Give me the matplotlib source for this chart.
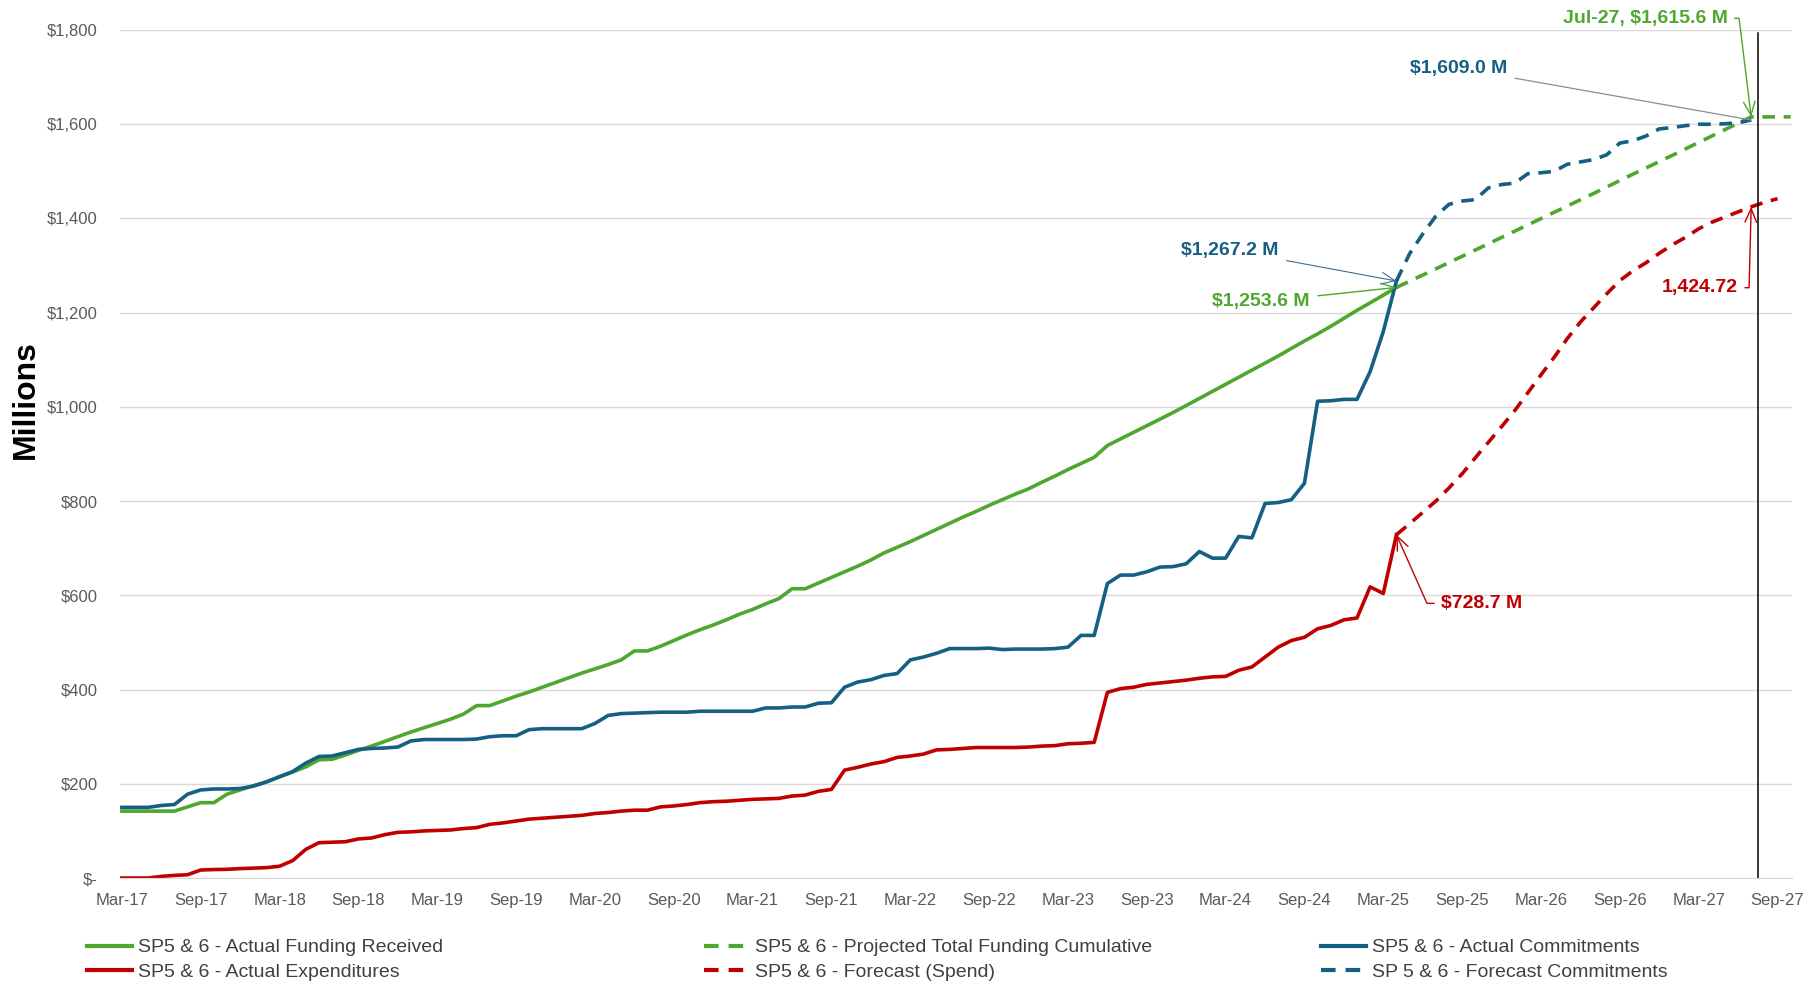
import numpy as np
import matplotlib
matplotlib.use("Agg")
import matplotlib.pyplot as plt
from matplotlib.ticker import FuncFormatter
from matplotlib.lines import Line2D

plt.rcParams['font.family'] = ['Liberation Sans', 'DejaVu Sans']

# colours
GREEN = '#4EA72E'
BLUE = '#156082'
RED = '#C00000'

# x tick labels, one every 6 months starting Mar-17 (month index 0)
tick_labels = ['Mar-17', 'Sep-17', 'Mar-18', 'Sep-18', 'Mar-19', 'Sep-19', 'Mar-20',
               'Sep-20', 'Mar-21', 'Sep-21', 'Mar-22', 'Sep-22', 'Mar-23', 'Sep-23',
               'Mar-24', 'Sep-24', 'Mar-25', 'Sep-25', 'Mar-26', 'Sep-26', 'Mar-27',
               'Sep-27']

# actual series, monthly from Mar-17 to Apr-25 ($M)
funding_actual = [142, 142, 142, 142, 142, 151, 160, 160, 178, 187,
                  196, 204, 215, 225, 236, 251, 252, 261, 271, 280,
                  290, 300, 310, 319, 328, 337, 348, 366, 366, 376,
                  386, 395, 405, 415, 425, 435, 444, 453, 463, 482,
                  482, 492, 504, 516, 527, 537, 548, 560, 570, 582,
                  593, 614, 614, 626, 638, 650, 662, 675, 690, 702,
                  714, 727, 740, 753, 766, 778, 791, 803, 815, 826,
                  840, 853, 867, 880, 893, 918, 932, 946, 960, 974,
                  988, 1003, 1018, 1033, 1048, 1063, 1078, 1093, 1108, 1124,
                  1140, 1155, 1171, 1188, 1205, 1221, 1237, 1253.6]

commit_actual = [150, 150, 150, 154, 156, 178, 187, 189, 189, 190,
                 195, 204, 215, 226, 244, 258, 259, 266, 273, 275,
                 276, 278, 291, 294, 294, 294, 294, 295, 300, 302,
                 302, 315, 317, 317, 317, 317, 328, 345, 349, 350,
                 351, 352, 352, 352, 354, 354, 354, 354, 354, 361,
                 361, 363, 363, 371, 372, 405, 416, 421, 430, 434,
                 463, 469, 477, 487, 487, 487, 488, 485, 486, 486,
                 486, 487, 490, 515, 515, 625, 643, 643, 650, 660,
                 661, 667, 693, 679, 679, 725, 722, 795, 797, 803,
                 838, 1012, 1013, 1016, 1016, 1075, 1160, 1267.2]

spend_actual = [0, 0, 0, 3.5, 5.6, 7, 17, 18, 18.5, 20,
                21, 22, 25, 37, 61, 75, 76, 77, 83, 85,
                92, 97, 98, 100, 101, 102, 105, 107, 114, 117,
                121, 125, 127, 129, 131, 133, 137, 139, 142, 144,
                144, 151, 153, 156, 160, 162, 163, 165, 167, 168,
                169, 174, 176, 184, 188, 229, 235, 242, 247, 256,
                259, 263, 272, 273, 275, 277, 277, 277, 277, 278,
                280, 281, 285, 286, 288, 394, 402, 405, 411, 414,
                417, 420, 424, 427, 428, 441, 448, 469, 490, 504,
                511, 529, 536, 548, 552, 618, 604, 728.7]

# projected total funding (quarterly points from Apr-25)
funding_proj_month = [97, 100, 103, 106, 109, 112, 115, 118, 121, 124, 127]
funding_proj = [1253.6, 1293, 1333, 1373, 1413, 1453, 1494, 1534, 1575, 1615.6, 1615.6]

# forecast commitments, monthly Apr-25 to Jul-27
commit_fc = [1267.2, 1325, 1367, 1405, 1430, 1437, 1440, 1465, 1472, 1475,
             1495, 1497, 1500, 1515, 1520, 1525, 1535, 1560, 1565, 1575,
             1590, 1593, 1597, 1600, 1600, 1601, 1603, 1609.0]

# forecast spend, monthly Apr-25 to Sep-27
spend_fc = [728.7, 752, 776, 800, 828, 858, 892, 925, 958, 992,
            1030, 1068, 1105, 1145, 1180, 1210, 1240, 1268, 1289, 1306,
            1326, 1344, 1360, 1378, 1392, 1403, 1414, 1424.72, 1434, 1442]

FC_START = len(funding_actual) - 1   # Apr-25
JUL27 = 124

x_act = np.arange(len(funding_actual))
x_cfc = np.arange(FC_START, FC_START + len(commit_fc))
x_sfc = np.arange(FC_START, FC_START + len(spend_fc))

fig = plt.figure(figsize=(18.17, 9.84), dpi=100)
ax = fig.add_axes([0.066, 0.1077, 0.9202, 0.8618])

lw = 2.6
dash = (0, (3.5, 2.4))
ax.plot(x_act, funding_actual, color=GREEN, lw=lw)
ax.plot(funding_proj_month, funding_proj, color=GREEN, lw=lw, linestyle=dash)
ax.plot(x_act, commit_actual, color=BLUE, lw=lw)
ax.plot(x_act, spend_actual, color=RED, lw=lw)
ax.plot(x_sfc, spend_fc, color=RED, lw=lw, linestyle=dash)
ax.plot(x_cfc, commit_fc, color=BLUE, lw=lw, linestyle=dash)

# marker line at Jul-27 (drawn just right of the month point, as in the original)
ax.axvline(JUL27 + 0.5, color='black', lw=1.1, ymax=0.997)

ax.set_xlim(-0.15, 127.1)
ax.set_ylim(0, 1800)
ax.set_yticks(np.arange(0, 1801, 200))
ax.yaxis.set_major_formatter(FuncFormatter(lambda v, p: '$-' if v == 0 else f'${v:,.0f}'))
ax.set_xticks(np.arange(0, 6 * len(tick_labels), 6))
ax.set_xticklabels(tick_labels)
ax.tick_params(axis='both', length=0, labelsize=12, labelcolor='#595959')
ax.tick_params(axis='y', pad=16)
ax.tick_params(axis='x', pad=11)
ax.grid(axis='y', color='#D9D9D9', lw=1)
ax.set_axisbelow(True)
for s in ['top', 'right', 'left']:
    ax.spines[s].set_visible(False)
ax.spines['bottom'].set_color('#D9D9D9')

ax.set_ylabel('Millions', fontsize=23, fontweight='bold')
ax.yaxis.set_label_coords(-0.0475, 0.564)

# annotations
afont = dict(fontsize=14, fontweight='bold')
ax.annotate('$1,267.2 M', xy=(FC_START, commit_fc[0]), xytext=(88.0, 1333),
            ha='right', va='center', color=BLUE, **afont,
            arrowprops=dict(arrowstyle='->,head_length=0.7,head_width=0.3',
                            color='#3F6F8F', lw=0.8, shrinkA=4, shrinkB=0))
ax.annotate('$1,253.6 M', xy=(FC_START, funding_actual[-1]), xytext=(90.4, 1223),
            ha='right', va='center', color=GREEN, **afont,
            arrowprops=dict(arrowstyle='->,head_length=0.7,head_width=0.3',
                            color=GREEN, lw=1.0, shrinkA=4, shrinkB=0))
ax.annotate('$728.7 M', xy=(FC_START, spend_actual[-1]), xytext=(100.4, 583),
            ha='left', va='center', color=RED, **afont,
            arrowprops=dict(arrowstyle='->,head_length=0.7,head_width=0.3',
                            connectionstyle='angle,angleA=0,angleB=-66,rad=0',
                            color=RED, lw=1.0, shrinkA=3, shrinkB=0))
ax.annotate('1,424.72', xy=(JUL27, spend_fc[JUL27 - FC_START]), xytext=(123.0, 1253),
            ha='right', va='center', color=RED, **afont,
            arrowprops=dict(arrowstyle='->,head_length=0.7,head_width=0.3',
                            connectionstyle='angle,angleA=0,angleB=88.5,rad=0',
                            color=RED, lw=1.0, shrinkA=3, shrinkB=0))
ax.annotate('$1,609.0 M', xy=(JUL27, commit_fc[-1]), xytext=(105.4, 1719),
            ha='right', va='center', color=BLUE, **afont,
            arrowprops=dict(arrowstyle='-', color='#8C8C8C', lw=0.9, shrinkA=4, shrinkB=0))
ax.annotate('Jul-27, $1,615.6 M', xy=(JUL27, funding_proj[-2]), xytext=(122.2, 1825),
            ha='right', va='center', color=GREEN, **afont, annotation_clip=False,
            arrowprops=dict(arrowstyle='->,head_length=0.7,head_width=0.3',
                            connectionstyle='angle,angleA=0,angleB=97,rad=0',
                            color=GREEN, lw=1.0, shrinkA=3, shrinkB=0))

# legend, three columns of two entries
def h(color, ls):
    return Line2D([], [], color=color, lw=3, linestyle=ls)

cols = [
    ([h(GREEN, '-'), h(RED, '-')],
     ['SP5 & 6 - Actual Funding Received', 'SP5 & 6 - Actual Expenditures'], 0.0479),
    ([h(GREEN, dash), h(RED, dash)],
     ['SP5 & 6 - Projected Total Funding Cumulative', 'SP5 & 6 - Forecast (Spend)'], 0.3875),
    ([h(BLUE, '-'), h(BLUE, dash)],
     ['SP5 & 6 - Actual Commitments', 'SP 5 & 6 - Forecast Commitments'], 0.727),
]
for handles, labels, xpos in cols:
    fig.legend(handles, labels, loc='center left', bbox_to_anchor=(xpos, 0.0245),
               frameon=False, fontsize=14, labelcolor='#404040', borderpad=0,
               borderaxespad=0, handlelength=2.3, handletextpad=0.3, labelspacing=0.35)

fig.savefig('out.png', dpi=100)
